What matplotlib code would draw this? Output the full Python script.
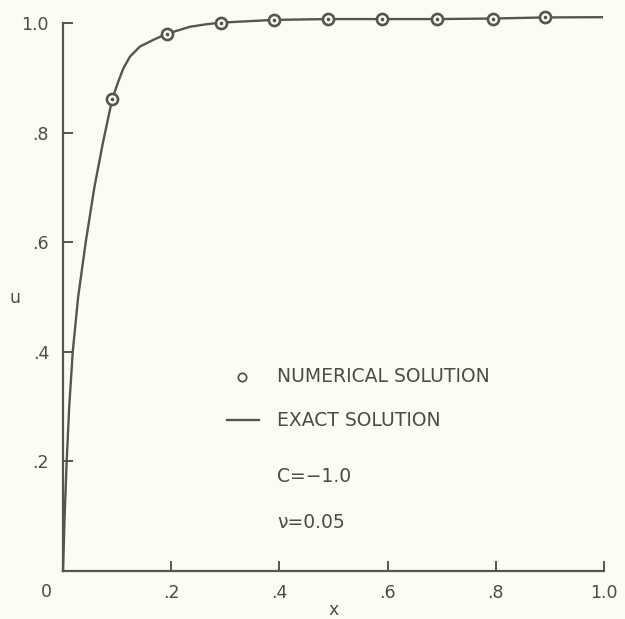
import matplotlib
matplotlib.use("Agg")
import matplotlib.pyplot as plt

# exact solution curve
exact_x = [0.0, 0.003, 0.0068, 0.0115, 0.018, 0.028, 0.042, 0.058, 0.0735,
           0.091, 0.1022, 0.1115, 0.1238, 0.1423, 0.1669, 0.1917, 0.2348,
           0.2656, 0.292, 0.390, 0.490, 0.590, 0.692, 0.794, 0.891, 0.996]
exact_u = [0.0, 0.10, 0.20, 0.30, 0.40, 0.50, 0.60, 0.70, 0.78,
           0.861, 0.893, 0.917, 0.9385, 0.957, 0.969, 0.980, 0.993,
           0.9976, 1.0005, 1.0055, 1.007, 1.007, 1.007, 1.008, 1.010, 1.0104]

# numerical solution points (as placed in the picture)
num_x = [0.091, 0.192, 0.292, 0.390, 0.490, 0.590, 0.692, 0.794, 0.891]
num_u = [0.861, 0.980, 1.0005, 1.0055, 1.007, 1.007, 1.007, 1.008, 1.010]

x_ticks = [0.2, 0.4, 0.6, 0.8, 1.0]
x_labels = [".2", ".4", ".6", ".8", "1.0"]
y_ticks = [0.2, 0.4, 0.6, 0.8, 1.0]
y_labels = [".2", ".4", ".6", ".8", "1.0"]

ink = "#55574a"
txt = "#4c4c48"
bg = "#fcfcf4"

fig = plt.figure(figsize=(6.25, 6.19), dpi=100, facecolor=bg)
ax = fig.add_axes([0.1008, 0.0775, 0.8656, 0.8855], facecolor=bg)

ax.plot(exact_x, exact_u, color=ink, lw=1.7, clip_on=False, zorder=2,
        solid_joinstyle="round")
ax.plot(num_x, num_u, linestyle="none", marker="o", markersize=8,
        markerfacecolor=bg, markeredgecolor=ink, markeredgewidth=1.9,
        clip_on=False, zorder=3)
ax.plot(num_x, num_u, linestyle="none", marker="o", markersize=1.6,
        color=ink, clip_on=False, zorder=4)

ax.set_xlim(0, 1.0)
ax.set_ylim(0, 1.0)
for side in ["top", "right"]:
    ax.spines[side].set_visible(False)
for side in ["left", "bottom"]:
    ax.spines[side].set_color(ink)
    ax.spines[side].set_linewidth(1.6)

ax.set_xticks(x_ticks)
ax.set_xticklabels(x_labels)
ax.set_yticks(y_ticks)
ax.set_yticklabels(y_labels)
ax.tick_params(direction="in", length=7, width=1.4, color=ink,
               labelcolor=txt, labelsize=12.5)
ax.tick_params(axis="x", pad=9)
ax.tick_params(axis="y", pad=10)

# corner zero and axis labels
ax.text(-0.031, -0.038, "0", transform=ax.transAxes, ha="center", va="center",
        fontsize=12.5, color=txt)
ax.text(0.5, -0.072, "x", transform=ax.transAxes, ha="center", va="center",
        fontsize=12.5, color=txt)
ax.text(-0.089, 0.498, "u", transform=ax.transAxes, ha="center", va="center",
        fontsize=12.5, color=txt)

# hand-made legend
ax.plot([0.331], [0.354], linestyle="none", marker="o", markersize=6,
        markerfacecolor="none", markeredgecolor=ink, markeredgewidth=1.3)
ax.text(0.396, 0.354, "NUMERICAL SOLUTION", ha="left", va="center",
        fontsize=13.5, color=txt)
ax.plot([0.303, 0.362], [0.2755, 0.2755], color=ink, lw=1.7)
ax.text(0.396, 0.2755, "EXACT SOLUTION", ha="left", va="center",
        fontsize=13.5, color=txt)
ax.text(0.396, 0.173, "C=\u22121.0", ha="left", va="center",
        fontsize=13.5, color=txt)
ax.text(0.396, 0.089, "\u03bd=0.05", ha="left", va="center",
        fontsize=13.5, color=txt)

fig.savefig("out.png", dpi=100, facecolor=bg)
